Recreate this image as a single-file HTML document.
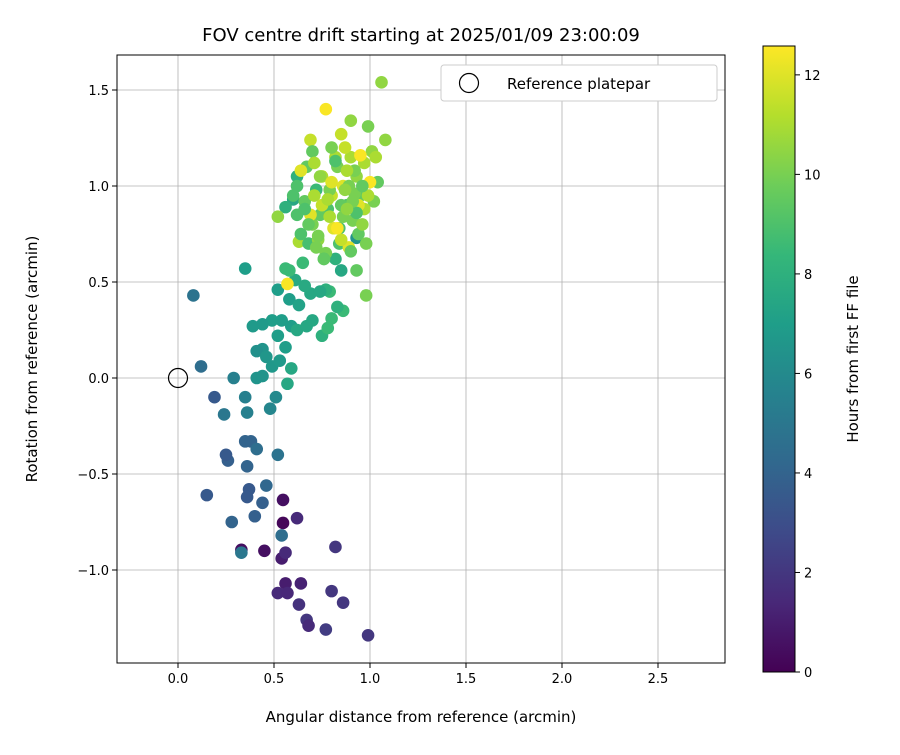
<!DOCTYPE html>
<html><head><meta charset="utf-8"><style>
body{margin:0;background:#fff;font-family:"Liberation Sans","DejaVu Sans",sans-serif}
svg text{font-family:"DejaVu Sans","Liberation Sans",sans-serif;fill:#000}
</style></head><body>
<svg id="c" width="900" height="750" viewBox="0 0 900 750"></svg>
<script>
const xTicks=[0,0.5,1,1.5,2,2.5];
const yTicks=[-1,-0.5,0,0.5,1,1.5];
const cTicks=[0,2,4,6,8,10,12];
const ptX=[0.547,0.547,0.33,0.45,0.54,0.56,0.64,0.52,0.57,0.63,0.67,0.68,0.56,0.62,0.82,0.80,0.86,0.77,0.99,
0.15,0.28,0.26,0.25,0.19,0.35,0.38,0.36,0.37,0.36,0.44,0.40,0.41,0.46,0.52,0.54,0.33,0.12,0.08,0.24,0.29,0.35,0.36,0.48,0.51,0.35,
0.41,0.44,0.44,0.41,0.46,0.49,0.53,0.57,0.59,0.56,0.52,0.49,0.54,0.39,0.44,0.52,0.59,0.62,0.67,0.58,0.63,0.69,0.70,0.61,0.66,0.75,0.78,0.80,0.79,0.86,0.83,0.77,0.74,0.60,0.56,0.62,0.58,0.56,0.93,0.85,0.82,
1.06,0.77,0.90,0.99,1.08,0.85,0.69,0.98,0.93,1.04,0.57,0.52,0.63,
0.62,0.66,0.70,0.72,0.75,0.78,0.80,0.83,0.86,0.88,0.90,0.93,0.95,0.97,1.00,1.02,0.64,0.68,0.71,0.74,0.77,0.81,0.84,0.87,0.91,0.94,0.97,1.01,0.60,0.65,0.69,0.73,0.76,0.79,0.82,0.85,0.89,0.92,0.96,0.99,0.62,0.67,0.72,0.75,0.80,0.84,0.88,0.92,0.95,0.70,0.74,0.78,0.82,0.86,0.90,0.94,0.98,0.66,0.71,0.76,0.80,0.85,0.89,0.93,0.87,0.83,0.79,0.73,0.68,0.64,0.91,0.96,1.03,0.88,0.84,0.76,0.72];
const ptY=[-0.755,-0.635,-0.895,-0.90,-0.94,-1.07,-1.07,-1.12,-1.12,-1.18,-1.26,-1.29,-0.91,-0.73,-0.88,-1.11,-1.17,-1.31,-1.34,
-0.61,-0.75,-0.43,-0.40,-0.10,-0.33,-0.33,-0.46,-0.58,-0.62,-0.65,-0.72,-0.37,-0.56,-0.40,-0.82,-0.91,0.06,0.43,-0.19,0.0,-0.10,-0.18,-0.16,-0.10,0.57,
0.0,0.01,0.15,0.14,0.11,0.06,0.09,-0.03,0.05,0.16,0.22,0.30,0.30,0.27,0.28,0.46,0.27,0.25,0.27,0.41,0.38,0.44,0.30,0.51,0.48,0.22,0.26,0.31,0.45,0.35,0.37,0.46,0.45,0.93,0.89,1.05,0.56,0.57,0.73,0.56,0.62,
1.54,1.40,1.34,1.31,1.24,1.27,1.24,0.43,0.56,1.02,0.49,0.84,0.71,
0.85,0.92,0.80,0.98,1.05,0.88,0.95,1.10,1.00,0.90,1.15,1.05,0.95,1.12,1.02,0.92,0.75,0.70,0.95,0.85,0.65,0.78,0.70,1.20,0.82,0.75,0.88,1.18,0.95,0.60,0.85,0.72,0.62,0.98,1.15,0.90,0.68,1.08,0.80,0.95,1.00,1.10,0.68,0.90,1.02,0.78,1.08,0.96,1.16,1.18,1.05,0.93,1.13,0.84,0.66,0.90,0.70,0.88,1.12,0.62,1.20,0.72,1.00,0.86,0.98,0.78,0.84,0.74,0.80,1.08,0.92,1.00,1.15,0.88,0.82,0.76];
const ptH=[0.2,0.5,0.5,0.5,1,1,1.2,1.5,1.4,1.8,2,1.5,1.5,1.5,2,2,2,2.2,2,
3.5,4,3.8,3.5,3.5,4,4,4,3.5,3.5,3.8,3.8,4.5,4.2,4.8,4.5,5,4.5,4.8,5,5.5,5.5,5.5,5.8,6,7,
6.5,6.5,6.5,6.3,6.6,6.7,6.8,7.5,7.5,7,7,7,7,6.8,6.8,7,7,7.5,7.5,7,7.2,7.5,7.5,7.6,7.6,8,8.5,8.5,8.5,8.5,8,8,7.5,7.5,8,8,8.5,8.5,6.5,7.5,8,
10.5,12.5,10.5,10,10.5,11.5,11.5,10,9.5,9.5,12.5,10.5,11,
9,9.5,10,8.5,11,9,11.5,10,12,9,11,10.5,9.5,11,12.5,10,9,8.8,11,9.5,10,12,9,11.5,10,9.5,11,10.5,9,8.5,12,10.5,9,10,11,9.5,12,10,10.5,11,9,9.5,10,11.5,12,9,11,10,12.5,9.5,10.5,11,9,10,9.5,12,10,9,11,9.5,10,11.5,10,9,10.5,12.5,11,10,9.5,12,10,9.5,11,10.5];
const NS="http://www.w3.org/2000/svg",svg=document.getElementById('c');
function mk(t,a,p){const e=document.createElementNS(NS,t);for(const k in a)e.setAttribute(k,a[k]);(p||svg).appendChild(e);return e;}
const L=117,R=725,T=55,B=663;
const sx=v=>178+v*192, sy=v=>378-v*192;
const cb={x:763,w:32,top:46,bot:672,max:12.58};
const sc=v=>cb.bot-(v/cb.max)*(cb.bot-cb.top);
const vir=[[68,1,84],[72,40,120],[62,74,137],[49,104,142],[38,130,142],[31,158,137],[53,183,121],[109,205,89],[180,222,44],[253,231,37]];
function col(h){if(typeof h!=='number'||isNaN(h))h=0;let t=Math.max(0,Math.min(1,h/cb.max))*(vir.length-1);let i=Math.min(vir.length-2,Math.floor(t)),f=t-i;const c=vir[i].map((v,k)=>Math.round(v+(vir[i+1][k]-v)*f));return `rgb(${c})`;}
// grid
const g=mk('g',{});
xTicks.forEach(v=>{mk('line',{x1:sx(v),x2:sx(v),y1:T,y2:B,stroke:'#b0b0b0','stroke-width':0.8},g);
 mk('line',{x1:sx(v),x2:sx(v),y1:B,y2:B+5,stroke:'#000'});
 const t=mk('text',{x:sx(v),y:B+20,'text-anchor':'middle','font-size':13});t.textContent=v.toFixed(1);
 });
yTicks.forEach(v=>{mk('line',{x1:L,x2:R,y1:sy(v),y2:sy(v),stroke:'#b0b0b0','stroke-width':0.8},g);
 mk('line',{x1:L-5,x2:L,y1:sy(v),y2:sy(v),stroke:'#000'});
 const t=mk('text',{x:L-8,y:sy(v)+5,'text-anchor':'end','font-size':13});t.textContent=(v<0?'\u2212':'')+Math.abs(v).toFixed(1);
 });
// points
const pg=mk('g',{});
const nPts=Math.min(ptX.length,ptY.length,ptH.length);
for(let i=0;i<nPts;i++){const c=mk('circle',{cx:sx(ptX[i]),cy:sy(ptY[i]),r:6.3,fill:col(ptH[i])},pg);
 
 }
const ref=mk('circle',{cx:sx(0),cy:sy(0),r:9.5,fill:'none',stroke:'#000','stroke-width':1.2});

const fr=mk('rect',{x:L,y:T,width:R-L,height:B-T,fill:'none',stroke:'#000','stroke-width':1});

// legend
const lg=mk('g',{});
mk('rect',{x:441,y:65,width:276,height:36,rx:3,fill:'#fff',stroke:'#ccc'},lg);
mk('circle',{cx:469,cy:83,r:9.5,fill:'none',stroke:'#000','stroke-width':1.2},lg);
const lt=mk('text',{x:507,y:89,'font-size':15},lg);lt.textContent='Reference platepar';
// titles
let t=mk('text',{x:421,y:41,'text-anchor':'middle','font-size':18});t.textContent='FOV centre drift starting at 2025/01/09 23:00:09';
t=mk('text',{x:421,y:722,'text-anchor':'middle','font-size':15});t.textContent='Angular distance from reference (arcmin)';
t=mk('text',{x:0,y:0,'text-anchor':'middle','font-size':15,transform:'translate(37,359) rotate(-90)'});t.textContent='Rotation from reference (arcmin)';
// colorbar
const defs=mk('defs',{});const gr=mk('linearGradient',{id:'vg',x1:0,y1:1,x2:0,y2:0},defs);
vir.forEach((c,i)=>mk('stop',{offset:i/(vir.length-1),'stop-color':`rgb(${c})`},gr));
const cbr=mk('rect',{x:cb.x,y:cb.top,width:cb.w,height:cb.bot-cb.top,fill:'url(#vg)',stroke:'#000','stroke-width':1});

cTicks.forEach(v=>{mk('line',{x1:cb.x+cb.w,x2:cb.x+cb.w+5,y1:sc(v),y2:sc(v),stroke:'#000'});
 const tt=mk('text',{x:cb.x+cb.w+9,y:sc(v)+5,'font-size':13});tt.textContent=v;
 });
t=mk('text',{x:0,y:0,'text-anchor':'middle','font-size':15,transform:'translate(858,359) rotate(-90)'});t.textContent='Hours from first FF file';
</script></body></html>
